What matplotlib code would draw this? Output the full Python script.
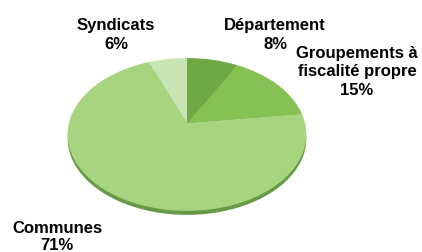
import numpy as np
import matplotlib
matplotlib.use('Agg')
import matplotlib.pyplot as plt
import matplotlib.transforms as mtransforms

labels = ['Département', 'Groupements à\nfiscalité propre', 'Communes', 'Syndicats']
shares = [8, 15, 71, 6]
colors = ['#6fa945', '#85c153', '#a6d47f', '#c9e5b3']
side_colors = ['#55853a', '#5f933c', '#679a47', '#9dc088']

# pixel geometry of the reference: apex of the pie, radii, tilt
W, H = 422, 253
cx, cy = 187, 124
rx, ry = 118, 74.7
k = 0.15      # perspective: far side smaller than near side
depth = 4


class Persp(mtransforms.Transform):
    input_dims = 2
    output_dims = 2

    def __init__(self, k):
        super().__init__()
        self.k = k

    def transform_non_affine(self, xy):
        xy = np.asarray(xy, float)
        g = 1.0 / (1.0 + self.k * xy[:, 1])
        return np.column_stack([xy[:, 0] * g, xy[:, 1] * g])


def to_data(px, py):
    return (px - cx) / rx, (cy - py) / ry


plt.rcParams['font.family'] = ['Liberation Sans', 'DejaVu Sans']

fig = plt.figure(figsize=(W / 100, H / 100), dpi=100)
ax = fig.add_axes([0, 0, 1, 1])

# side of the 3D disc, then the top face
side, _ = ax.pie(shares, colors=side_colors, startangle=90, counterclock=False,
                 wedgeprops=dict(linewidth=0))
top, _ = ax.pie(shares, colors=colors, startangle=90, counterclock=False,
                wedgeprops=dict(linewidth=0))

ax.set_aspect('auto')
x0, y0 = to_data(0, H)
x1, y1 = to_data(W, 0)
ax.set_xlim(x0, x1)
ax.set_ylim(y0, y1)
ax.axis('off')

persp = Persp(k)
shift = mtransforms.Affine2D().translate(0, -depth / ry)
for w in side:
    w.set_transform(persp + shift + ax.transData)
for w in top:
    w.set_transform(persp + ax.transData)

label_pos = [(275, 35), (357, 72), (57, 237), (116, 35)]
spacing = [1.3, 1.3, 1.18, 1.3]
for lab, v, (px, py), ls in zip(labels, shares, label_pos, spacing):
    x, y = to_data(px, py)
    ax.text(x, y, f'{lab}\n{v}%', ha='center', va='center', fontsize=12,
            fontweight='bold', linespacing=ls)

fig.savefig('out.png', dpi=100, facecolor='white')
